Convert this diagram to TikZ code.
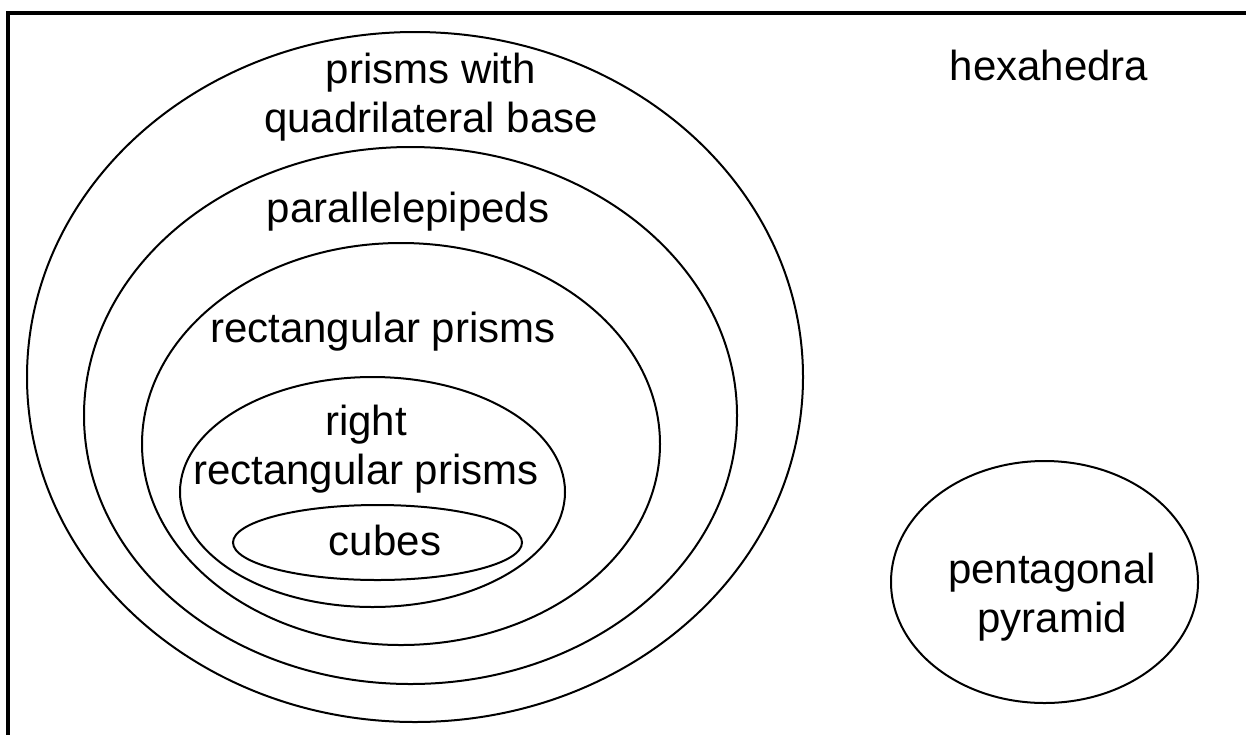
\documentclass[tikz,border=0pt]{standalone}
\usepackage{fontspec}
\setmainfont{Liberation Sans}
\usetikzlibrary{shapes.geometric}
\begin{document}
\begin{tikzpicture}[x=1pt,y=-1pt,
  setbox/.style={draw, ellipse, line width=2pt, inner sep=0pt, outer sep=0pt},
  lbl/.style={anchor=base, align=center, inner sep=0pt,
              font=\fontsize{42pt}{49pt}\selectfont}]
\useasboundingbox (0,0) rectangle (1246,734);
\clip (0,0) rectangle (1246,734);
\fill[white] (0,0) rectangle (1246,734);
% universe: all hexahedra
\draw[line width=4pt] (8,13) rectangle (1262,752);
\node[lbl] (hexa) at (1049,80) {hexahedra};
% nested classes of hexahedra
\node[setbox, minimum width=776pt, minimum height=690pt] (quadprism) at (415,377) {};
\node[setbox, minimum width=653pt, minimum height=537pt] (parallel) at (410.5,415.5) {};
\node[setbox, minimum width=518pt, minimum height=402pt] (rectprism) at (401,444) {};
\node[setbox, minimum width=385pt, minimum height=230pt] (rightprism) at (372.5,492) {};
\node[setbox, minimum width=289pt, minimum height=75pt] (cube) at (377.5,542.5) {};
\node[setbox, minimum width=307pt, minimum height=242pt] (pyramid) at (1044.5,582) {};
% labels (the base anchor of a two-line label is its last baseline)
\node[lbl] (quadprismlbl) at (431,132) {prisms with\\quadrilateral base};
\node[lbl] (parallellbl) at (408,222) {parallelepipeds};
\node[lbl] (rectprismlbl) at (383,342) {rectangular prisms};
\node[lbl] (rightprismlbl) at (366,484) {right\\rectangular prisms};
\node[lbl] (cubelbl) at (385,555) {cubes};
\node[lbl] (pyramidlbl) at (1052,632) {pentagonal\\pyramid};
\end{tikzpicture}
\end{document}
